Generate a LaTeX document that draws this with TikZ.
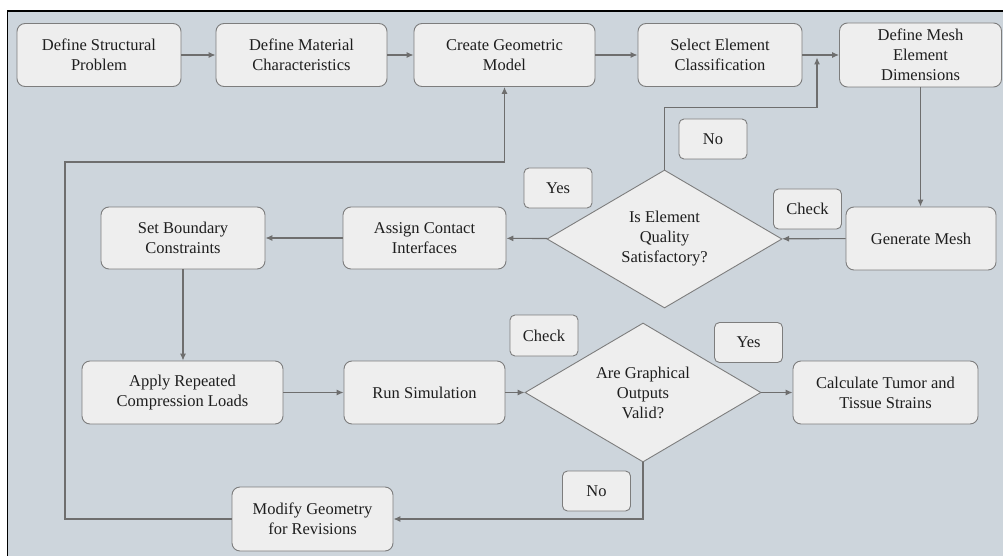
\documentclass[tikz,border=0pt]{standalone}
\usepackage{fontspec}
\setmainfont{Liberation Serif}
\usetikzlibrary{shapes.geometric,arrows.meta,calc}
\definecolor{bgc}{HTML}{CDD5DC}
\definecolor{boxc}{HTML}{EEEEEE}
\definecolor{linec}{HTML}{6E6E6E}
\definecolor{txtc}{HTML}{1E1E1E}
\begin{document}
\begin{tikzpicture}[x=1pt,y=-1pt,
  every node/.style={font=\fontsize{16.5}{20}\selectfont, text=txtc},
  procbox/.style={draw=linec!90, fill=boxc, rounded corners=8pt, line width=0.9pt,
    minimum height=63pt, align=center, inner sep=2pt},
  decbox/.style={diamond, draw=linec!90, fill=boxc, line width=0.9pt, aspect=1.7,
    inner sep=0pt, minimum width=235pt, minimum height=138pt, align=center},
  tagbox/.style={draw=linec!90, fill=boxc, rounded corners=5pt, line width=0.9pt,
    minimum width=68pt, minimum height=40pt, inner sep=1pt},
  arr/.style={draw=linec, line width=1.1pt, -{Latex[length=7pt,width=6pt]}}
]
\useasboundingbox (0,0) rectangle (1003,556);
\fill[white] (0,0) rectangle (1003,556);
\fill[bgc] (7.5,11) rectangle (1003,556);
\draw[black, line width=1.6pt] (7.5,556) -- (7.5,11) -- (1003,11);

% top row
\node[procbox, minimum width=164pt] (n1) at (99,55) {Define Structural\\Problem};
\node[procbox, minimum width=171pt] (n2) at (301.5,55) {Define Material\\Characteristics};
\node[procbox, minimum width=181pt] (n3) at (504.5,55) {Create Geometric\\Model};
\node[procbox, minimum width=164pt] (n4) at (720,55) {Select Element\\Classification};
\node[procbox, minimum width=162pt, minimum height=64pt] (n5) at (920.5,55) {Define Mesh\\Element\\Dimensions};

% middle row
\node[procbox, minimum width=150pt] (n6) at (921,238.5) {Generate Mesh};
\node[decbox] (d1) at (664.5,239) {Is Element\\Quality\\Satisfactory?};
\node[procbox, minimum width=163pt, minimum height=62pt] (n7) at (424.5,238) {Assign Contact\\Interfaces};
\node[procbox, minimum width=164pt, minimum height=62pt] (n8) at (183,238) {Set Boundary\\Constraints};

% bottom row
\node[procbox, minimum width=201pt] (n9) at (182.5,392.5) {Apply Repeated\\Compression Loads};
\node[procbox, minimum width=161pt] (n10) at (424.5,392.5) {Run Simulation};
\node[decbox, minimum width=236pt, minimum height=139pt] (d2) at (643,392.5) {Are Graphical\\Outputs\\Valid?};
\node[procbox, minimum width=185pt] (n11) at (885.5,392.5) {Calculate Tumor and\\Tissue Strains};
\node[procbox, minimum width=161pt, minimum height=64pt] (n12) at (312.5,519) {Modify Geometry\\for Revisions};

% tags
\node[tagbox] (t1) at (713,139) {No};
\node[tagbox] (t2) at (558,188) {Yes};
\node[tagbox] (t3) at (807.5,209) {Check};
\node[tagbox, minimum height=41pt] (t4) at (544,335.5) {Check};
\node[tagbox] (t5) at (748.5,342.5) {Yes};
\node[tagbox] (t6) at (596.5,491) {No};

% connectors
\draw[arr] (n1) -- (n2);
\draw[arr] (n2) -- (n3);
\draw[arr] (n3) -- (n4);
\draw[arr] (n4) -- (n5);
\coordinate (j1) at (817,57.5);
\draw[arr] (d1.north) -- ++(0,-62) -| (j1);
\draw[arr] (n5.south) -- (n5.south |- n6.north);
\draw[arr] (n6) -- (d1);
\draw[arr] (d1) -- (n7);
\draw[arr] (n7) -- (n8);
\draw[arr] (n8.south) -- (n8.south |- n9.north);
\draw[arr] (n9) -- (n10);
\draw[arr] (n10) -- (d2);
\draw[arr] (d2) -- (n11);
\draw[arr] (d2.south) |- (n12.east);
\coordinate (lb) at (65,519);
\coordinate (lt) at (65,162);
\draw[arr] (n12.west) -- (lb) -- (lt) -| (n3.south);
\end{tikzpicture}
\end{document}
